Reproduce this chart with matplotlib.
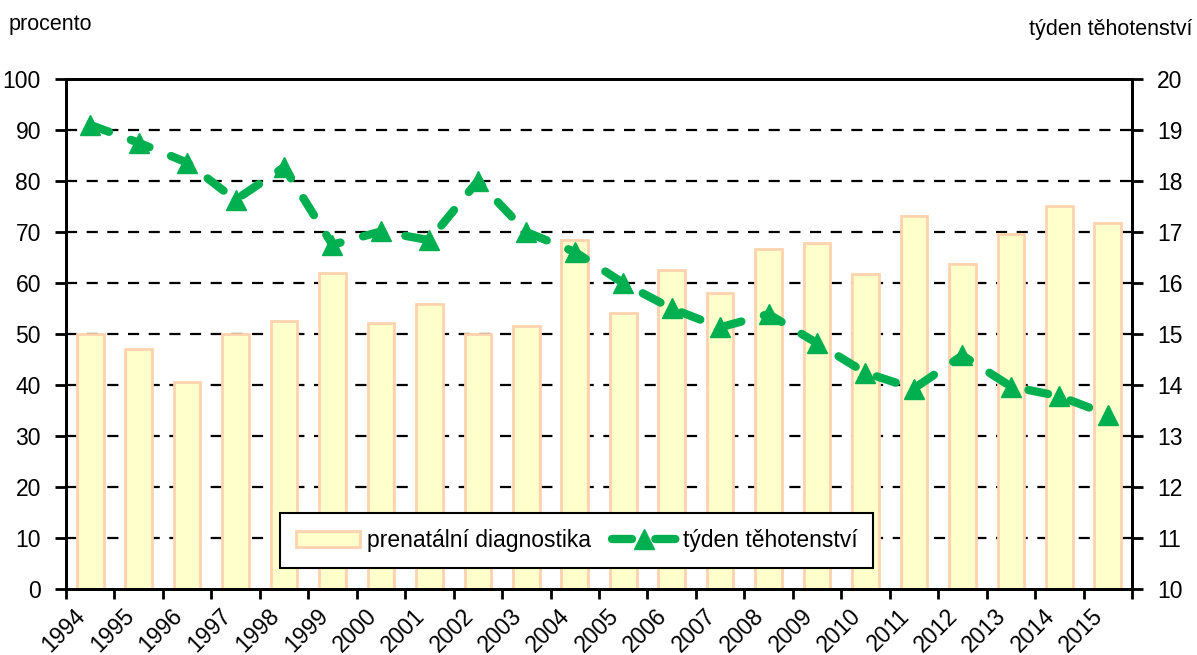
import matplotlib
matplotlib.use("Agg")
import matplotlib.pyplot as plt
import matplotlib.transforms as mtransforms
import numpy as np
from matplotlib.ticker import FixedLocator, MultipleLocator

plt.rcParams['font.family'] = ['Liberation Sans', 'DejaVu Sans']

years = [str(y) for y in range(1994, 2016)]
prenatal = [50.0, 47.0, 40.6, 50.0, 52.6, 62.0, 52.2, 55.9, 50.0, 51.6, 68.4,
            54.2, 62.5, 58.0, 66.7, 67.8, 61.7, 73.1, 63.7, 69.7, 75.1, 71.8]
week = [19.1, 18.75, 18.36, 17.63, 18.27, 16.75, 17.01, 16.84, 18.0, 17.0, 16.61,
        16.0, 15.5, 15.13, 15.39, 14.82, 14.24, 13.93, 14.58, 13.97, 13.78, 13.42]

green = '#00B050'
fs = 16.5

fig = plt.figure(figsize=(11.97, 6.55), dpi=100)
ax = fig.add_axes([0.0551, 0.1008, 0.8906, 0.7786])
ax2 = ax.twinx()

x = np.arange(len(years))
ax.bar(x, prenatal, width=0.55, color='#FFFFCC', edgecolor='#FFD3AE',
       linewidth=2, zorder=2, label='prenatální diagnostika')

for v in range(10, 100, 10):
    ax.axhline(v, color='black', lw=1.6, ls=(0, (5.0, 4.3)), zorder=1)

ln, = ax2.plot(x, week, color=green, lw=6, ls=(0, (2.4, 2.8)),
               dash_capstyle='round', marker='^', markersize=14,
               markeredgecolor=green, markerfacecolor=green,
               label='týden těhotenství', zorder=3)

ax.set_xlim(-0.5, len(years) - 0.5)
ax.set_ylim(0, 100)
ax2.set_ylim(10, 20)
ax.yaxis.set_major_locator(MultipleLocator(10))
ax2.yaxis.set_major_locator(MultipleLocator(1))

ax.set_xticks(x)
ax.set_xticklabels(years, rotation=45, ha='right', fontsize=fs)
shift = mtransforms.ScaledTranslation(5 / 100, 0, fig.dpi_scale_trans)
for lab in ax.get_xticklabels():
    lab.set_transform(lab.get_transform() + shift)
ax.xaxis.set_minor_locator(FixedLocator(np.arange(-0.5, len(years), 1)))
ax.tick_params(axis='x', which='major', length=0, pad=11)
ax.tick_params(axis='x', which='minor', length=7, width=2, direction='out')
ax.tick_params(axis='y', length=8, width=2, labelsize=fs, pad=10)
ax2.tick_params(axis='y', length=8, width=2, labelsize=fs, pad=10)

for a in (ax, ax2):
    for s in a.spines.values():
        s.set_linewidth(2)

fig.text(0.007, 0.962, 'procento', fontsize=fs - 1, ha='left', va='center')
fig.text(0.996, 0.955, 'týden těhotenství', fontsize=fs - 1, ha='right', va='center')

h1, l1 = ax.get_legend_handles_labels()
leg = ax2.legend(h1 + [ln], l1 + ['týden těhotenství'], loc='lower left',
                 bbox_to_anchor=(0.2008, 0.041), borderaxespad=0, ncol=2,
                 fontsize=fs, frameon=True, fancybox=False, framealpha=1,
                 edgecolor='black', handlelength=2.8, handletextpad=0.3,
                 columnspacing=0.9, borderpad=0.7)
leg.get_frame().set_linewidth(1.5)

fig.savefig('out.png', dpi=100)
